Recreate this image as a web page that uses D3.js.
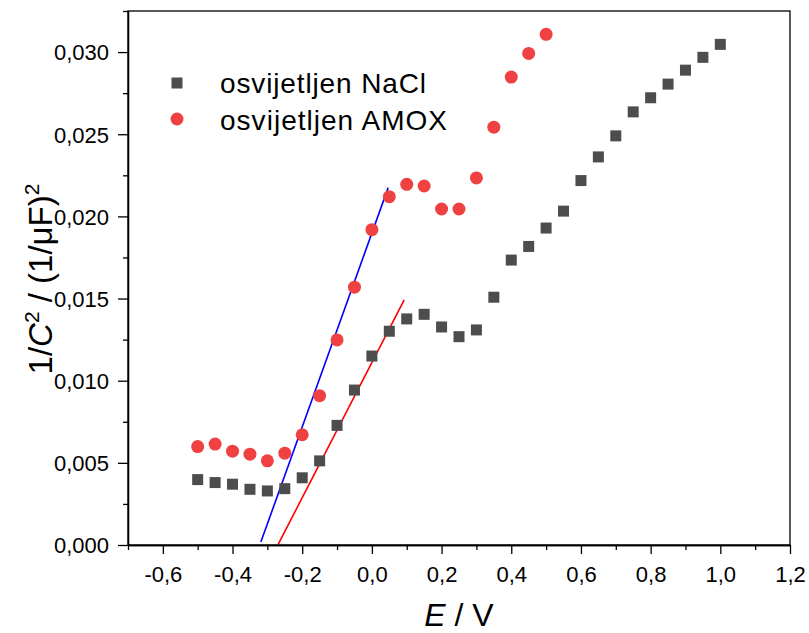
<!DOCTYPE html>
<html>
<head>
<meta charset="utf-8">
<script src="https://cdn.jsdelivr.net/npm/d3@7"></script>
<style>
  html, body { margin: 0; padding: 0; background: #fff; }
  svg { display: block; font-family: Arial, "Liberation Sans", sans-serif; }
</style>
</head>
<body>
<svg id="chart" width="809" height="633"></svg>
<script>
// ---- data ----
const seriesNames = ["osvijetljen NaCl", "osvijetljen AMOX"];
const naclE = [-0.5,-0.45,-0.4,-0.35,-0.3,-0.25,-0.2,-0.15,-0.1,-0.05,0.0,0.05,0.1,0.15,0.2,0.25,0.3,0.35,0.4,0.45,0.5,0.55,0.6,0.65,0.7,0.75,0.8,0.85,0.9,0.95,1.0];
const naclV = [0.00398,0.00380,0.00370,0.00339,0.00329,0.00343,0.00409,0.00512,0.00728,0.00943,0.01150,0.01301,0.01376,0.01404,0.01327,0.01268,0.01309,0.01508,0.01734,0.01817,0.01929,0.02032,0.02218,0.02362,0.02490,0.02636,0.02722,0.02805,0.02890,0.02968,0.03047];
const amoxE = [-0.5,-0.45,-0.4,-0.35,-0.3,-0.25,-0.2,-0.15,-0.1,-0.05,0.0,0.05,0.1,0.15,0.2,0.25,0.3,0.35,0.4,0.45,0.5];
const amoxV = [0.00599,0.00614,0.00571,0.00553,0.00512,0.00559,0.00671,0.00909,0.01248,0.01569,0.01919,0.02120,0.02195,0.02185,0.02045,0.02045,0.02234,0.02543,0.02848,0.02992,0.03108];
const fitAmoxE = [-0.3187, 0.0468];
const fitAmoxV = [0.00018, 0.02175];
const fitNaclE = [-0.269, 0.0927];
const fitNaclV = [0.00004, 0.01492];
const xMajorTicks = [-0.6,-0.4,-0.2,0.0,0.2,0.4,0.6,0.8,1.0,1.2];
const xMinorTicks = [-0.7,-0.5,-0.3,-0.1,0.1,0.3,0.5,0.7,0.9,1.1];
const yMajorTicks = [0,0.005,0.010,0.015,0.020,0.025,0.030];
const yMinorTicks = [0.0025,0.0075,0.0125,0.0175,0.0225,0.0275,0.0325];

// ---- layout ----
const L = 128, R = 790, T = 11, B = 545;
const svg = d3.select("#chart");
const x = d3.scaleLinear().domain([-0.7, 1.2]).range([L, R]);
const y = d3.scaleLinear().domain([0, 0.0325]).range([B, T]);
const fx = v => d3.format(".1f")(v).replace(".", ",").replace("−", "-");
const fy = v => d3.format(".3f")(v).replace(".", ",");

const axisColor = "#000";
// frame (top & right lines)
svg.append("rect").attr("x", L).attr("y", T).attr("width", R - L).attr("height", B - T)
  .attr("fill", "none").attr("stroke", axisColor).attr("stroke-width", 1.3);

// bottom axis
const xAxis = svg.append("g").attr("transform", `translate(0,${B})`)
  .call(d3.axisBottom(x).tickValues(xMajorTicks).tickFormat(fx).tickSize(9).tickSizeOuter(0));
const xMinor = svg.append("g").attr("transform", `translate(0,${B})`)
  .call(d3.axisBottom(x).tickValues(xMinorTicks).tickFormat("").tickSize(5).tickSizeOuter(0));
// left axis
const yAxis = svg.append("g").attr("transform", `translate(${L},0)`)
  .call(d3.axisLeft(y).tickValues(yMajorTicks).tickFormat(fy).tickSize(10).tickSizeOuter(0));
const yMinor = svg.append("g").attr("transform", `translate(${L},0)`)
  .call(d3.axisLeft(y).tickValues(yMinorTicks).tickFormat("").tickSize(5).tickSizeOuter(0));

[xAxis, xMinor, yAxis, yMinor].forEach(g => {
  g.select(".domain").attr("stroke", axisColor).attr("stroke-width", 1.3);
  g.selectAll(".tick line").attr("stroke", axisColor).attr("stroke-width", 1.3);
  g.selectAll(".tick text").attr("fill", "#000").attr("font-size", 22)
   .attr("font-family", "Arial, 'Liberation Sans', sans-serif");
});
xAxis.selectAll(".tick text").attr("dy", null).attr("y", 37);
yAxis.selectAll(".tick text").attr("x", -19).attr("dy", "0.36em");

// fit lines
const line = d3.line().x(d => x(d[0])).y(d => y(d[1]));
svg.append("path").datum(d3.zip(fitAmoxE, fitAmoxV)).attr("d", line)
  .attr("stroke", "#0000ff").attr("stroke-width", 1.6).attr("fill", "none");
svg.append("path").datum(d3.zip(fitNaclE, fitNaclV)).attr("d", line)
  .attr("stroke", "#ff0000").attr("stroke-width", 1.6).attr("fill", "none");

// markers
const sq = 11, cr = 6.5;
const naclColor = "#4d4d4d", amoxColor = "#ef4141";
svg.append("g").selectAll("rect").data(d3.zip(naclE, naclV)).join("rect")
  .attr("x", d => x(d[0]) - sq / 2).attr("y", d => y(d[1]) - sq / 2)
  .attr("width", sq).attr("height", sq).attr("fill", naclColor);
svg.append("g").selectAll("circle").data(d3.zip(amoxE, amoxV)).join("circle")
  .attr("cx", d => x(d[0])).attr("cy", d => y(d[1])).attr("r", cr).attr("fill", amoxColor);

// legend
const leg = svg.append("g");
leg.append("rect").attr("x", 177 - sq / 2).attr("y", 83 - sq / 2).attr("width", sq).attr("height", sq).attr("fill", naclColor);
leg.append("circle").attr("cx", 177).attr("cy", 119).attr("r", cr).attr("fill", amoxColor);
leg.append("text").attr("x", 220).attr("y", 93).attr("font-size", 28)
  .attr("textLength", 206).attr("lengthAdjust", "spacing").text(seriesNames[0]);
leg.append("text").attr("x", 220).attr("y", 130).attr("font-size", 28)
  .attr("textLength", 227).attr("lengthAdjust", "spacing").text(seriesNames[1]);

// x label
const xl = svg.append("text").attr("x", (L + R) / 2).attr("y", 626).attr("text-anchor", "middle")
  .attr("font-size", 32);
xl.append("tspan").attr("font-style", "italic").text("E");
xl.append("tspan").text(" / V");

// y label
const yl = svg.append("text").attr("transform", `translate(52,${(T + B) / 2 + 1}) rotate(-90)`)
  .attr("text-anchor", "middle").attr("font-size", 33);
yl.append("tspan").text("1/");
yl.append("tspan").attr("font-style", "italic").text("C");
yl.append("tspan").attr("font-size", 21).attr("dy", -13).text("2");
yl.append("tspan").attr("dy", 13).text(" / (1/μF)");
yl.append("tspan").attr("font-size", 21).attr("dy", -13).text("2");
</script>
</body>
</html>
